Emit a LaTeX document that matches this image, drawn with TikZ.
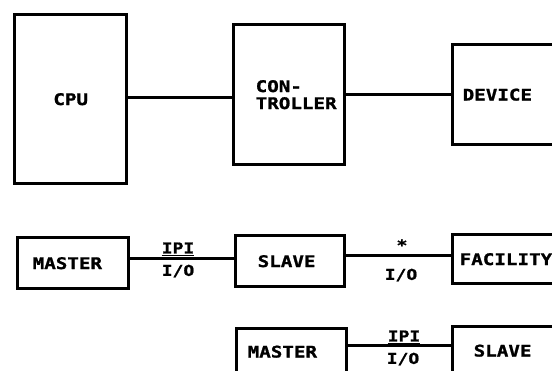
\documentclass[tikz,border=0pt]{standalone}
\usepackage{fontspec}
\newfontfamily\dotfont[FakeStretch=1.2, FakeBold=1.2]{DejaVu Sans Mono}

\begin{document}
\begin{tikzpicture}[x=1pt, y=-1pt,
  unit/.style 2 args={draw, line width=3.4pt, anchor=north west, inner ysep=0pt, align=left,
    text width=#1, inner xsep=#2, font=\dotfont\bfseries\fontsize{16}{17}\selectfont},
  link/.style={line width=3pt},
  tag/.style={inner sep=0pt, font=\dotfont\bfseries\fontsize{15}{15}\selectfont}
]
  \useasboundingbox (0,0) rectangle (552,371);
  \clip (0,0) rectangle (552,371);
  \node[unit={88pt}{12pt}, minimum height=169pt, align=center] (cpu) at (13,13) {CPU};
  \node[unit={67pt}{22pt}, minimum height=140pt] (ctrl) at (232,23) {CON-\\TROLLER};
  \node[unit={120pt}{10pt}, minimum height=100pt] (dev) at (451,43) {DEVICE};
  \node[unit={81pt}{15pt}, minimum height=51pt] (mas) at (16,236) {MASTER};
  \node[unit={65pt}{22pt}, minimum height=51pt] (slv) at (234,234) {SLAVE};
  \node[unit={126pt}{7pt}, minimum height=49pt] (fac) at (451,233) {FACILITY};
  \node[unit={88pt}{11pt}, minimum height=46pt] (mastwo) at (235,327) {MASTER};
  \node[unit={98pt}{21pt}, minimum height=48pt] (slvtwo) at (451,325) {SLAVE};
  \draw[link] (cpu.east |- 0,98) -- (ctrl.west |- 0,98);
  \draw[link] (ctrl.east |- 0,95) -- (dev.west |- 0,95);
  \draw[link] (mas.east |- 0,259) -- (slv.west |- 0,259);
  \draw[link] (slv.east |- 0,256) -- (fac.west |- 0,256);
  \draw[link] (mastwo.east |- 0,346) -- (slvtwo.west |- 0,346);
  \node[tag] (ipione) at (178,249) {\underline{IPI}};
  \node[tag] (ioone) at (178,271) {I/O};
  \node[tag] (star) at (402,245) {*};
  \node[tag] (iotwo) at (401,275) {I/O};
  \node[tag] (ipitwo) at (404,337) {\underline{IPI}};
  \node[tag] (iothree) at (403,359) {I/O};
\end{tikzpicture}
\end{document}
